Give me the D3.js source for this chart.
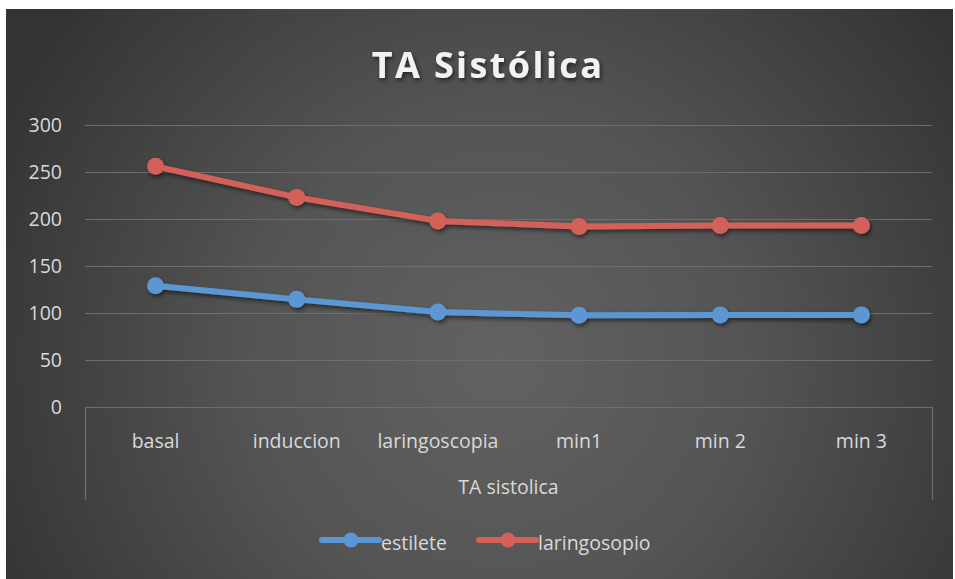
<!DOCTYPE html>
<html>
<head>
<meta charset="utf-8">
<script src="https://cdn.jsdelivr.net/npm/d3@7"></script>
<style>
  html, body { margin: 0; padding: 0; background: #fff; }
  svg { display: block; font-family: "Open Sans", sans-serif; }
</style>
</head>
<body>
<div id="container"></div>
<script>
// chart data
const categories = ["basal", "induccion", "laringoscopia", "min1", "min 2", "min 3"];
const estilete = [129, 114.5, 101, 97.5, 98, 98];
const laringosopio = [256, 223, 198, 192, 193, 193];
const yTicks = [0, 50, 100, 150, 200, 250, 300];
const seriesNames = ["estilete", "laringosopio"];
const seriesColors = ["#5b97d4", "#d4605a"];

const W = 955, H = 579;
const margin = { left: 85, right: 932, top: 125, bottom: 407 };
const labelFont = 19.5;

const svg = d3.select("div#container")
  .append("svg")
  .attr("width", W)
  .attr("height", H);

const defs = svg.append("defs");
const grad = defs.append("radialGradient")
  .attr("id", "bg")
  .attr("gradientUnits", "userSpaceOnUse")
  .attr("cx", 500).attr("cy", 360).attr("r", 560);
grad.append("stop").attr("offset", "0%").attr("stop-color", "#626262");
grad.append("stop").attr("offset", "45%").attr("stop-color", "#545454");
grad.append("stop").attr("offset", "100%").attr("stop-color", "#333333");

const shadow = defs.append("filter").attr("id", "shadow")
  .attr("x", "-20%").attr("y", "-20%").attr("width", "140%").attr("height", "140%");
shadow.append("feDropShadow")
  .attr("dx", 1.5).attr("dy", 2.5).attr("stdDeviation", 2)
  .attr("flood-color", "#000").attr("flood-opacity", 0.55);

svg.append("rect")
  .attr("x", 6).attr("y", 9)
  .attr("width", 947).attr("height", H - 9)
  .attr("fill", "url(#bg)");

// title
svg.append("text")
  .attr("x", 488).attr("y", 78)
  .attr("text-anchor", "middle")
  .attr("fill", "#f2f2f2")
  .attr("font-size", 36)
  .attr("font-weight", "bold")
  .attr("letter-spacing", 2.4)
  .attr("filter", "url(#shadow)")
  .text("TA Sistólica");

const x = d3.scaleBand()
  .domain(categories)
  .range([margin.left, margin.right]);

const y = d3.scaleLinear()
  .domain([0, 300])
  .range([margin.bottom, margin.top]);

// gridlines
svg.append("g")
  .selectAll("line")
  .data(yTicks.filter(d => d > 0))
  .join("line")
  .attr("x1", margin.left).attr("x2", margin.right)
  .attr("y1", d => Math.round(y(d)) + 0.5).attr("y2", d => Math.round(y(d)) + 0.5)
  .attr("stroke", "#6e6e6e")
  .attr("stroke-width", 1.2);

// y axis labels
const yAxis = svg.append("g")
  .attr("transform", `translate(${margin.left - 23},0)`)
  .call(d3.axisLeft(y).tickValues(yTicks).tickSize(0).tickPadding(0));
yAxis.select(".domain").remove();
yAxis.selectAll("text")
  .attr("fill", "#d9d9d9")
  .attr("font-size", labelFont)
  .attr("font-family", "'Open Sans', sans-serif");

// category axis box
const boxBottom = 500;
svg.append("path")
  .attr("d", `M${margin.left + 0.5},${boxBottom}V${margin.bottom + 0.5}H${margin.right + 0.5}V${boxBottom}`)
  .attr("fill", "none")
  .attr("stroke", "#6e6e6e")
  .attr("stroke-width", 1.2);

const xAxis = svg.append("g")
  .attr("transform", `translate(0,${margin.bottom})`)
  .call(d3.axisBottom(x).tickSize(0).tickPadding(27));
xAxis.select(".domain").remove();
xAxis.selectAll("text")
  .attr("fill", "#d9d9d9")
  .attr("font-size", labelFont)
  .attr("font-family", "'Open Sans', sans-serif");

svg.append("text")
  .attr("x", (margin.left + margin.right) / 2)
  .attr("y", 494)
  .attr("text-anchor", "middle")
  .attr("fill", "#d9d9d9")
  .attr("font-size", labelFont)
  .text("TA sistolica");

// series
const line = d3.line()
  .x((d, i) => x(categories[i]) + x.bandwidth() / 2)
  .y(d => y(d));

[estilete, laringosopio].forEach((vals, s) => {
  const g = svg.append("g").attr("filter", "url(#shadow)");
  g.append("path")
    .datum(vals)
    .attr("d", line)
    .attr("fill", "none")
    .attr("stroke", seriesColors[s])
    .attr("stroke-width", 6)
    .attr("stroke-linejoin", "round");
  g.selectAll("circle")
    .data(vals)
    .join("circle")
    .attr("cx", (d, i) => x(categories[i]) + x.bandwidth() / 2)
    .attr("cy", d => y(d))
    .attr("r", 8.5)
    .attr("fill", seriesColors[s]);
});

// legend
const legendX = [322, 479];
seriesNames.forEach((name, s) => {
  const g = svg.append("g").attr("transform", `translate(${legendX[s]},540)`);
  g.append("line")
    .attr("x1", 0).attr("x2", 57)
    .attr("stroke", seriesColors[s])
    .attr("stroke-width", 6)
    .attr("stroke-linecap", "round");
  g.append("circle")
    .attr("cx", 29).attr("r", 7.5)
    .attr("fill", seriesColors[s]);
  g.append("text")
    .attr("x", 59).attr("y", 10)
    .attr("fill", "#d9d9d9")
    .attr("font-size", labelFont)
    .text(name);
});
</script>
</body>
</html>
